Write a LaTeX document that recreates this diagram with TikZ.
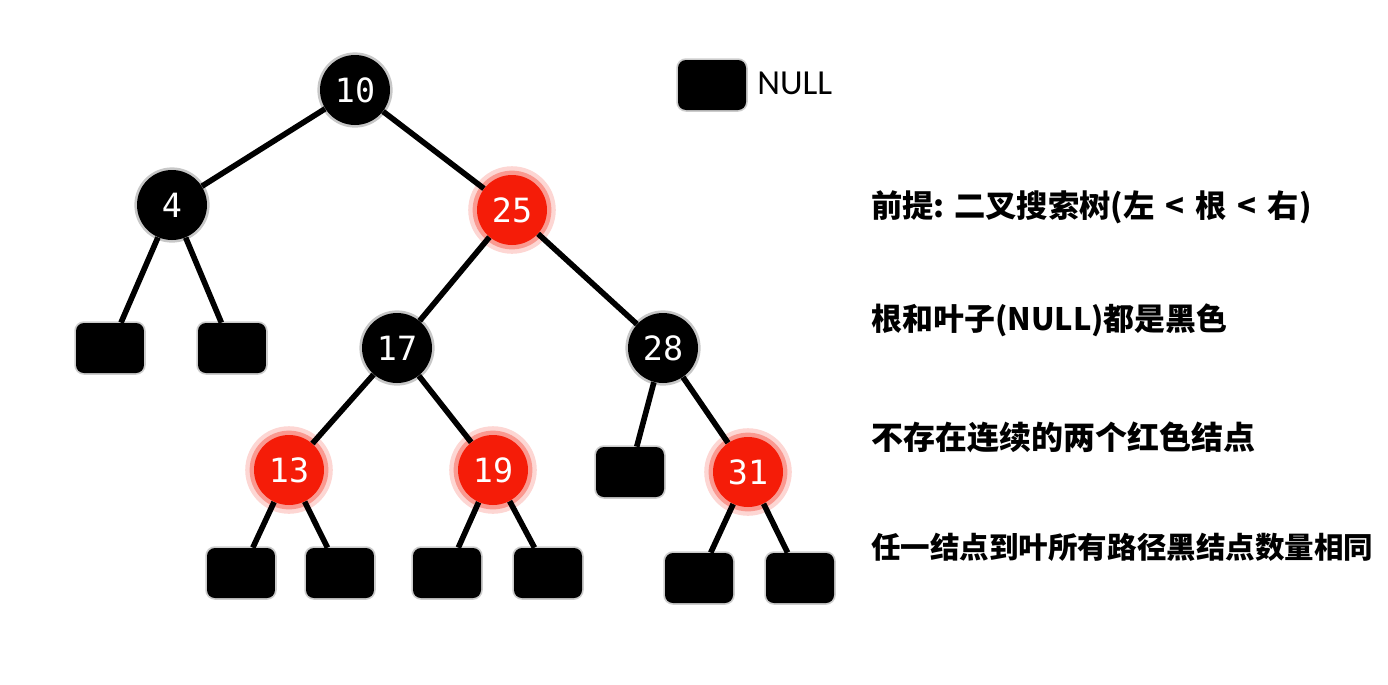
\documentclass[tikz,border=0pt]{standalone}
\usepackage{fontspec}
\newfontfamily\cjk{Noto Sans CJK SC}
\newfontfamily\numfont{DejaVu Sans Mono}
\newfontfamily\keyfont{Carlito}
\newcommand{\nodeSize}[0]{1.4cm}
\newcommand{\ltgap}[0]{\hspace{0.35em}}
\definecolor{rbred}{RGB}{245,28,8}

\begin{document}
\begin{tikzpicture}[x=0.02cm, y=-0.02cm]
  \tikzset{
    black node/.style={circle, fill=black, minimum size=\nodeSize, inner sep=0pt,
      text=white, font=\numfont\fontsize{19pt}{19pt}\selectfont,
      preaction={draw=black!22, line width=3pt}},
    red node/.style={circle, fill=rbred, minimum size=\nodeSize, inner sep=0pt,
      text=white, font=\numfont\fontsize{19pt}{19pt}\selectfont,
      preaction={draw=rbred!18, line width=10pt},
      preaction={draw=rbred!45, line width=5pt}},
    leaf/.style={rectangle, rounded corners=0.16cm, fill=black, minimum width=1.36cm,
      minimum height=1cm, inner sep=0pt, preaction={draw=black!20, line width=2pt}},
    edge/.style={line width=3.2pt},
    rule/.style={anchor=west, inner sep=0pt, font=\cjk\bfseries}
  }
  \useasboundingbox (0,0) rectangle (1388,684);

  % tree
  \node[black node] (n10) at (355,90) {10};
  \node[black node] (n4)  at (172,205) {4};
  \node[red node]   (n25) at (512,210) {25};
  \node[black node] (n17) at (397,348) {17};
  \node[black node] (n28) at (663,348) {28};
  \node[red node]   (n13) at (289,470) {13};
  \node[red node]   (n19) at (493,470) {19};
  \node[red node]   (n31) at (748,472) {31};

  % NULL leaves
  \node[leaf] (l4a)  at (110,348) {};
  \node[leaf] (l4b)  at (232,348) {};
  \node[leaf] (l13a) at (241,573) {};
  \node[leaf] (l13b) at (340,573) {};
  \node[leaf] (l19a) at (447,573) {};
  \node[leaf] (l19b) at (548,573) {};
  \node[leaf] (l28a) at (630,472) {};
  \node[leaf] (l31a) at (699,578) {};
  \node[leaf] (l31b) at (800,578) {};

  \foreach \a/\b in {n10/n4, n10/n25, n4/l4a, n4/l4b, n25/n17, n25/n28,
      n17/n13, n17/n19, n28/l28a, n28/n31, n13/l13a, n13/l13b,
      n19/l19a, n19/l19b, n31/l31a, n31/l31b}
    \draw[edge] (\a) -- (\b);

  % legend
  \node[leaf] (key) at (712,85) {};
  \node[anchor=west, inner sep=0pt, font=\keyfont\fontsize{20pt}{20pt}\selectfont]
    (keytext) at (757,83) {NULL};

  % rules
  \node[rule] (r1) at (871,207) {\fontsize{17.8pt}{20pt}\selectfont
    前提: 二叉搜索树(左\ltgap{}<\ltgap{}根\ltgap{}<\ltgap{}右)};
  \node[rule] (r2) at (871,320) {\fontsize{17.6pt}{20pt}\selectfont 根和叶子(NULL)都是黑色};
  \node[rule] (r3) at (871,437) {\fontsize{18.2pt}{20pt}\selectfont 不存在连续的两个红色结点};
  \node[rule] (r4) at (871,547) {\fontsize{16.8pt}{20pt}\selectfont 任一结点到叶所有路径黑结点数量相同};
\end{tikzpicture}
\end{document}
